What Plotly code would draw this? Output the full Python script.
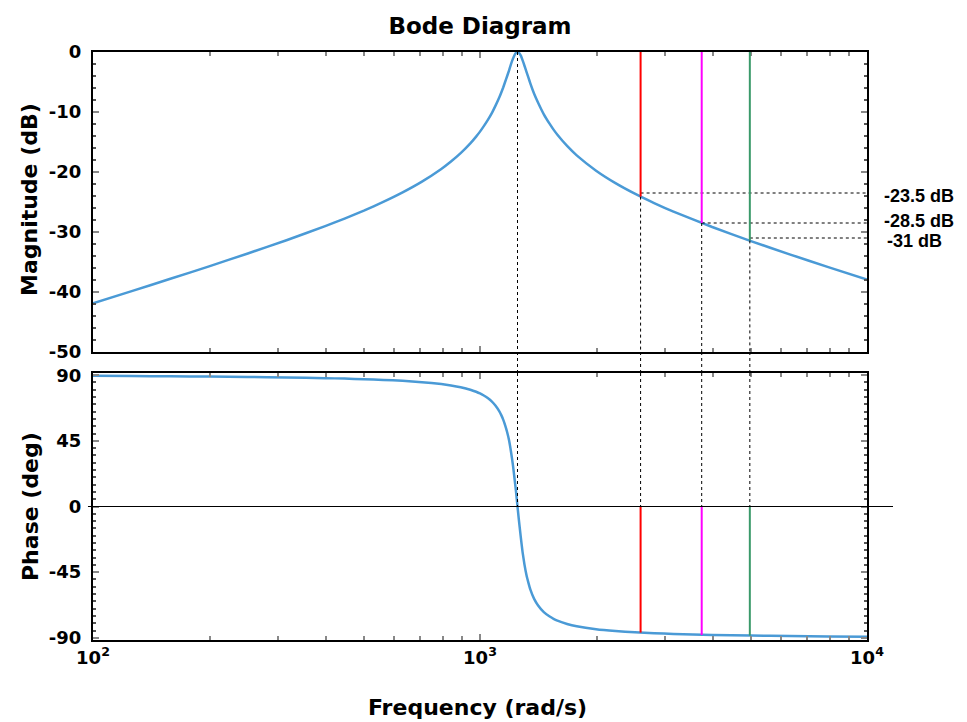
import plotly.graph_objects as go

# ---------------- data ----------------
freq = [100, 125.9, 158.5, 199.5, 251.2, 316.2, 398.1, 446.7, 501.2, 562.3,
        631.0, 707.9, 794.3, 841.4, 891.3, 944.1, 977.2, 1000, 1023, 1047, 1072, 1096, 1122,
        1135, 1148, 1161, 1175, 1189, 1202, 1216, 1230, 1239, 1250,
        1259, 1274, 1288, 1303, 1318, 1334, 1349, 1380, 1413, 1462,
        1514, 1549, 1585, 1679, 1778, 1995, 2239, 2512, 2818, 3162, 3981, 5012,
        6310, 7943, 10000]
mag_db = [-41.88, -39.85, -37.80, -35.72, -33.58, -31.37, -29.01, -27.76, -26.43, -24.99,
          -23.40, -21.61, -19.50, -18.26, -16.86, -15.23, -14.10, -13.27, -12.36, -11.36, -10.24, -8.98, -7.55,
          -6.75, -5.91, -5.00, -4.04, -3.05, -2.06, -1.14, -0.42, -0.14, 0.0,
          -0.09, -0.56, -1.35, -2.29, -3.29, -4.27, -5.22, -6.95, -8.45, -10.38,
          -11.99, -12.94, -13.80, -15.66, -17.23, -19.78, -21.85, -23.61, -25.17, -26.60, -29.17, -31.51,
          -33.72, -35.85, -37.93]
phase_deg = [89.54, 89.42, 89.26, 89.06, 88.80, 88.45, 87.97, 87.65, 87.27, 86.77,
             86.13, 85.23, 83.92, 82.99, 81.75, 80.03, 78.63, 77.47, 76.06, 74.31, 72.10, 69.18, 65.20,
             62.64, 59.56, 55.79, 51.10, 45.25, 37.91, 28.75, 17.66, 10.20, 0.0,
             -8.10, -20.43, -31.09, -39.80, -46.77, -52.31, -56.75, -63.29, -67.80, -72.39,
             -75.44, -76.97, -78.21, -80.52, -82.09, -84.11, -85.36, -86.22, -86.84, -87.32, -88.00, -88.48,
             -88.82, -89.08, -89.27]

peak_freq = 1250
marker_freqs = [2600, 3740, 4980]
marker_colors = ["#ff0000", "#ff00ff", "#3a9a6a"]
marker_mag = [-24.1, -28.5, -31.4]
marker_phase = [-86.4, -88.1, -88.5]
label_db = [-23.5, -28.5, -31]
label_text = ["-23.5 dB", "-28.5 dB", "-31 dB"]

mag_ticks = [0, -10, -20, -30, -40, -50]
mag_ticklabels = ["0", "-10", "-20", "-30", "-40", "-50"]
phase_ticks = [90, 45, 0, -45, -90]
phase_ticklabels = ["90", "45", "0", "-45", "-90"]
freq_ticks = [100, 1000, 10000]
freq_ticklabels = ["10<sup>2</sup>", "10<sup>3</sup>", "10<sup>4</sup>"]
freq_minor_ticks = [200, 300, 400, 500, 600, 700, 800, 900,
                    2000, 3000, 4000, 5000, 6000, 7000, 8000, 9000]

title_text = "Bode Diagram"
mag_title = "Magnitude (dB)"
phase_title = "Phase (deg)"
freq_title = "Frequency (rad/s)"

# ---------------- layout constants ----------------
W, H = 967, 722
ML, MR, MT, MB = 93, 100, 52, 82
PW = W - ML - MR
PH = H - MT - MB
top_dom = [(H - MB - 352) / PH, 1.0]
bot_dom = [0.0, (H - MB - 373) / PH]
mag_range = [-50, 0]
phase_range = [-91.5, 91.5]

CURVE = "#4a9ad6"
TICKFONT = dict(family="DejaVu Sans", size=18, color="black", weight="bold")
TITLEFONT = dict(family="DejaVu Sans", size=22, color="black", weight="bold")
LABELFONT = dict(family="Liberation Sans, Arial", size=18, color="black", weight="bold")

fig = go.Figure()
fig.add_trace(go.Scatter(x=freq, y=mag_db, mode="lines", xaxis="x", yaxis="y",
                         line=dict(color=CURVE, width=2.5, shape="spline", smoothing=0.4),
                         showlegend=False))
fig.add_trace(go.Scatter(x=freq, y=phase_deg, mode="lines", xaxis="x2", yaxis="y2",
                         line=dict(color=CURVE, width=2.5, shape="spline", smoothing=0.4),
                         showlegend=False))

axis_common = dict(showline=True, linecolor="black", linewidth=2, mirror="allticks",
                   ticks="inside", ticklen=6, tickcolor="#888", tickwidth=2,
                   showgrid=False, zeroline=False)
x_minor = dict(ticks="inside", ticklen=4, tickcolor="#888", tickwidth=1.5,
               tickvals=freq_minor_ticks, showgrid=False)

fig.update_layout(
    width=W, height=H,
    margin=dict(l=ML, r=MR, t=MT, b=MB),
    paper_bgcolor="white", plot_bgcolor="white",
    showlegend=False,
    title=dict(text=title_text, x=0.5, xref="paper", y=1 - 26 / H, yanchor="middle",
               font=dict(family="DejaVu Sans", size=23, color="black", weight="bold")),
    xaxis=dict(type="log", range=[2, 4], domain=[0, 1], anchor="y", matches="x2",
               showticklabels=False, tickvals=freq_ticks, minor=x_minor, **axis_common),
    xaxis2=dict(type="log", range=[2, 4], domain=[0, 1], anchor="y2",
                tickvals=freq_ticks, ticktext=freq_ticklabels, tickfont=TICKFONT,
                minor=x_minor, **axis_common),
    yaxis=dict(range=mag_range, domain=top_dom, anchor="x", tickvals=mag_ticks,
               ticktext=mag_ticklabels, tickfont=TICKFONT, ticklabelstandoff=6,
               minor=dict(ticks="inside", ticklen=3, tickcolor="#555", dtick=2, showgrid=False),
               **axis_common),
    yaxis2=dict(range=phase_range, domain=bot_dom, anchor="x2", tickvals=phase_ticks,
                ticktext=phase_ticklabels, tickfont=TICKFONT, ticklabelstandoff=6,
                minor=dict(ticks="inside", ticklen=3, tickcolor="#555", dtick=5, showgrid=False),
                **axis_common),
)

shapes = []
DOT = dict(color="black", width=1, dash="dot")


def vertical_dotted(f, top_from):
    shapes.append(dict(type="line", xref="x", yref="y", x0=f, x1=f,
                       y0=top_from, y1=mag_range[0], line=DOT, layer="above"))
    shapes.append(dict(type="line", xref="x", yref="paper", x0=f, x1=f,
                       y0=bot_dom[1], y1=top_dom[0], line=DOT, layer="above"))
    shapes.append(dict(type="line", xref="x2", yref="y2", x0=f, x1=f,
                       y0=phase_range[1], y1=0, line=DOT, layer="above"))


vertical_dotted(peak_freq, 0)

for f, c, m, p, lv in zip(marker_freqs, marker_colors, marker_mag, marker_phase, label_db):
    vertical_dotted(f, m)
    shapes.append(dict(type="line", xref="x", yref="y", x0=f, x1=freq[-1],
                       y0=lv, y1=lv, line=DOT, layer="above"))
    shapes.append(dict(type="line", xref="x", yref="y", x0=f, x1=f,
                       y0=mag_range[1], y1=m, line=dict(color=c, width=2), layer="above"))
    shapes.append(dict(type="line", xref="x2", yref="y2", x0=f, x1=f,
                       y0=0, y1=p, line=dict(color=c, width=2), layer="above"))

shapes.append(dict(type="line", xref="paper", yref="y2", x0=-0.0065, x1=1.0336,
                   y0=0, y1=0, line=dict(color="black", width=1.2), layer="above"))

fig.update_layout(shapes=shapes)

annotations = []
label_shift = [-3, 2, -3]
label_x = [882, 882, 885]
for lv, txt, sh, lx in zip(label_db, label_text, label_shift, label_x):
    annotations.append(dict(text=txt, xref="paper", yref="y", x=(lx - ML) / PW,
                            y=lv, yshift=sh, xanchor="left", yanchor="middle",
                            showarrow=False, font=LABELFONT))

annotations.append(dict(text=mag_title, xref="paper", yref="paper",
                        x=(30 - ML) / PW, y=(H - MB - 200) / PH,
                        textangle=-90, showarrow=False, font=TITLEFONT,
                        xanchor="center", yanchor="middle"))
annotations.append(dict(text=phase_title, xref="paper", yref="paper",
                        x=(30 - ML) / PW, y=(H - MB - 506) / PH,
                        textangle=-90, showarrow=False, font=TITLEFONT,
                        xanchor="center", yanchor="middle"))
annotations.append(dict(text=freq_title, xref="paper", yref="paper",
                        x=(477 - ML) / PW, y=(H - MB - 707) / PH,
                        showarrow=False, font=TITLEFONT,
                        xanchor="center", yanchor="middle"))
fig.update_layout(annotations=annotations)

fig.write_html("out.html", config={"displayModeBar": False},
               post_script="document.body.style.margin='0';document.body.style.overflow='hidden';")
